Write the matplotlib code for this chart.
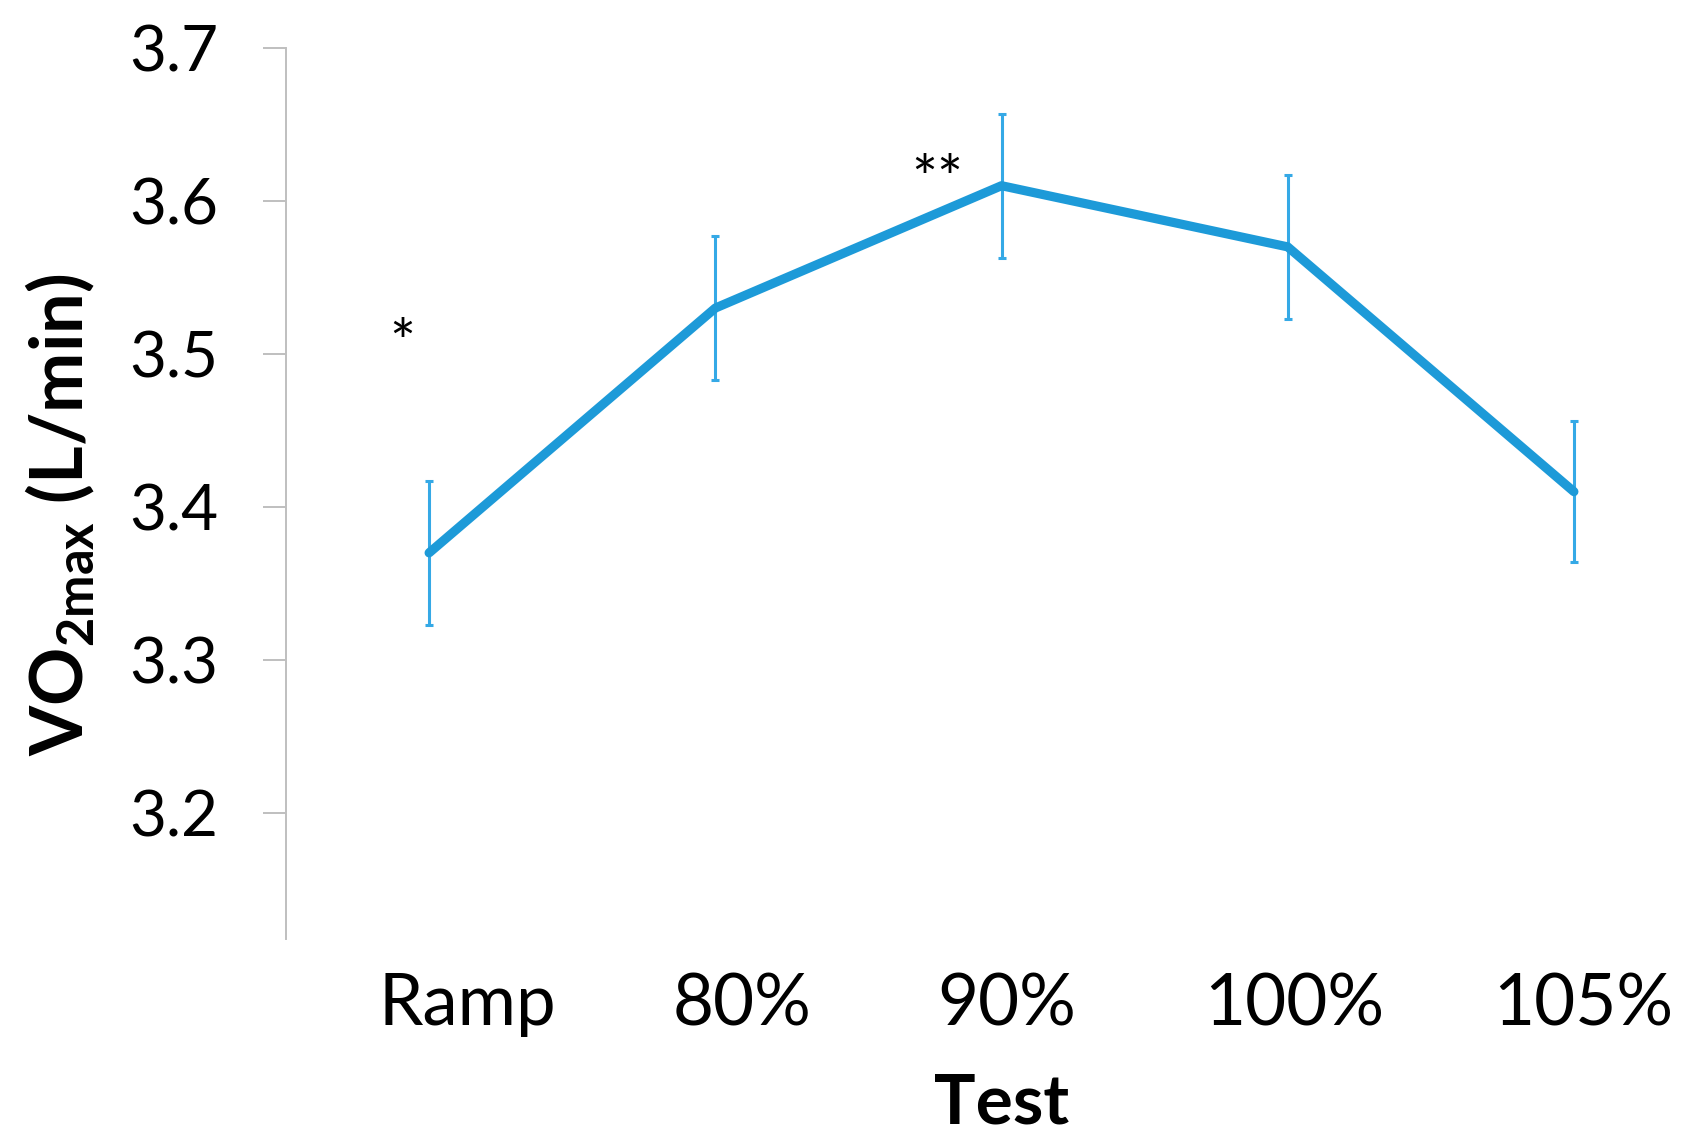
import matplotlib
matplotlib.use("Agg")
import matplotlib.pyplot as plt
import matplotlib.transforms as mtransforms

# VO2max per test condition, mean and error (L/min)
tests = ["Ramp", "80%", "90%", "100%", "105%"]
vo2max = [3.37, 3.53, 3.61, 3.57, 3.41]
vo2_err = [0.047, 0.047, 0.047, 0.047, 0.046]

# significance marks: (category index, y value, text)
sig_marks = [(0, 3.505, "*"), (2, 3.612, "**")]

plt.rcParams['font.family'] = ['Lato', 'DejaVu Sans']
plt.rcParams['mathtext.fontset'] = 'custom'
plt.rcParams['mathtext.rm'] = 'Lato'
plt.rcParams['mathtext.bf'] = 'Lato:bold'

line_col = '#1d9ad8'
err_col = '#35a9e6'
grey = '#bfbfbf'

fig = plt.figure(figsize=(16.97, 11.48), dpi=100)
ax = fig.add_axes([286 / 1697, 1 - 939 / 1148, 1431 / 1697, (939 - 48) / 1148])

x = list(range(len(tests)))
ax.errorbar(x, vo2max, yerr=vo2_err, fmt='none', ecolor=err_col,
            elinewidth=2.2, capsize=3, capthick=2.2, zorder=2)
ax.plot(x, vo2max, color=line_col, lw=6.6, solid_joinstyle='round',
        solid_capstyle='round', zorder=3)

# stars sit slightly left of their category
ax.text(sig_marks[0][0] - 0.095, sig_marks[0][1], sig_marks[0][2],
        fontsize=44, ha='center', va='center', color='black')
ax.text(sig_marks[1][0] - 0.225, sig_marks[1][1], sig_marks[1][2],
        fontsize=44, ha='center', va='center', color='black')

ax.set_xlim(-0.5, 4.5)
ax.set_ylim(3.1176, 3.7)
ax.set_yticks([3.2, 3.3, 3.4, 3.5, 3.6, 3.7])
ax.set_yticklabels(["3.2", "3.3", "3.4", "3.5", "3.6", "3.7"])
ax.set_xticks(x)
ax.set_xticklabels(tests)

for s in ['top', 'right', 'bottom']:
    ax.spines[s].set_visible(False)
ax.spines['left'].set_color(grey)
ax.spines['left'].set_linewidth(1.4)

ax.tick_params(axis='y', direction='out', length=16.5, width=1.4, color=grey,
               labelsize=46, pad=32)
ax.tick_params(axis='x', length=0, labelsize=51, pad=24)

# Excel-style offset of category labels
shifts = [38, 27, 5, 7, 9]
for lab, dx in zip(ax.get_xticklabels(), shifts):
    lab.set_transform(lab.get_transform() +
                      mtransforms.ScaledTranslation(dx / 100, 0, fig.dpi_scale_trans))

fig.text(60 / 1697, 1 - 515 / 1148, r'VO$_{\mathbf{2max}}$ (L/min)',
         rotation=90, ha='center', va='center', fontsize=52, fontweight='bold')
fig.text(1002 / 1697, 1 - 1104 / 1148, 'Test', ha='center', va='center',
         fontsize=50, fontweight='bold')

fig.savefig('out.png', dpi=100, facecolor='white')
